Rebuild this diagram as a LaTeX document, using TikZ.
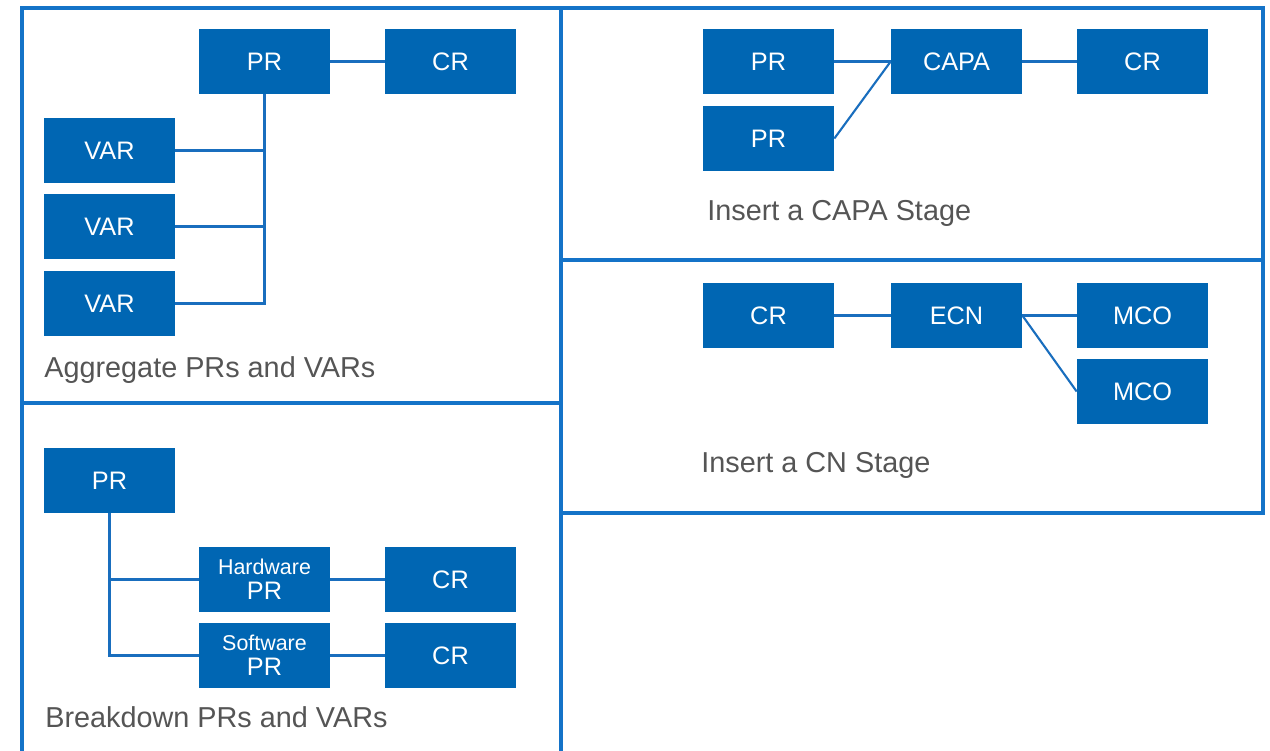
\documentclass[tikz,border=0pt]{standalone}
\usepackage{fontspec}
\setmainfont{Liberation Sans}
\definecolor{boxblue}{RGB}{0,102,179}
\definecolor{frameblue}{RGB}{20,115,200}
\definecolor{linkblue}{RGB}{25,110,190}
\definecolor{captiongray}{RGB}{85,85,85}
\begin{document}
\begin{tikzpicture}[x=0.02cm,y=-0.02cm,
  box/.style={rectangle, fill=boxblue, text=white, minimum width=2.62cm, minimum height=1.3cm, inner sep=0pt, font=\fontsize{14.4}{16}\selectfont},
  twobox/.style={box, align=center},
  frame/.style={draw=frameblue, line width=2pt},
  link/.style={draw=linkblue, line width=1.2pt},
  caption/.style={anchor=base west, inner sep=0pt, text=captiongray, font=\fontsize{16.4}{19}\selectfont}]
\useasboundingbox (0,0) rectangle (1270,750);
\fill[white] (0,0) rectangle (1270,750);
% frames
\draw[frame] (22,760) -- (22,8) -- (1263,8) -- (1263,513) -- (561,513);
\draw[frame] (561,8) -- (561,760);
\draw[frame] (22,403) -- (561,403);
\draw[frame] (561,260) -- (1263,260);
% top-left panel
\node[box] (pr1) at (264.5,61.5) {PR};
\node[box] (cr1) at (450.5,61.5) {CR};
\node[box] (var1) at (109.5,150.5) {VAR};
\node[box] (var2) at (109.5,226.5) {VAR};
\node[box] (var3) at (109.5,303.5) {VAR};
\draw[link] (pr1.east) -- (cr1.west);
\draw[link] (pr1.south) -- (pr1.south |- var3.east) -- (var3.east);
\draw[link] (var1.east) -- (pr1.south |- var1.east);
\draw[link] (var2.east) -- (pr1.south |- var2.east);
\node[caption] (cap1) at (44,377) {Aggregate PRs and VARs};
% top-right panel
\node[box] (pr2) at (768.5,61.5) {PR};
\node[box] (pr3) at (768.5,138.5) {PR};
\node[box] (capa) at (956.5,61.5) {CAPA};
\node[box] (cr2) at (1142.5,61.5) {CR};
\draw[link] (pr2.east) -- (capa.west);
\draw[link] (pr3.east) -- (capa.west);
\draw[link] (capa.east) -- (cr2.west);
\node[caption] (cap2) at (707,220.5) {Insert a CAPA Stage};
% middle-right panel
\node[box] (cr3) at (768.5,315.5) {CR};
\node[box] (ecn) at (956.5,315.5) {ECN};
\node[box] (mco1) at (1142.5,315.5) {MCO};
\node[box] (mco2) at (1142.5,391.5) {MCO};
\draw[link] (cr3.east) -- (ecn.west);
\draw[link] (ecn.east) -- (mco1.west);
\draw[link] (ecn.east) -- (mco2.west);
\node[caption] (cap3) at (701,472) {Insert a CN Stage};
% bottom-left panel
\node[box] (pr4) at (109.5,480.5) {PR};
\node[twobox] (hpr) at (264.5,579.5) {{\fontsize{12.2}{14}\selectfont Hardware}\\[-2pt]PR};
\node[box] (cr4) at (450.5,579.5) {CR};
\node[twobox] (spr) at (264.5,655.5) {{\fontsize{12.2}{14}\selectfont Software}\\[-2pt]PR};
\node[box] (cr5) at (450.5,655.5) {CR};
\draw[link] (pr4.south) -- (pr4.south |- spr.west) -- (spr.west);
\draw[link] (pr4.south |- hpr.west) -- (hpr.west);
\draw[link] (hpr.east) -- (cr4.west);
\draw[link] (spr.east) -- (cr5.west);
\node[caption] (cap4) at (45,727) {Breakdown PRs and VARs};
\end{tikzpicture}
\end{document}
